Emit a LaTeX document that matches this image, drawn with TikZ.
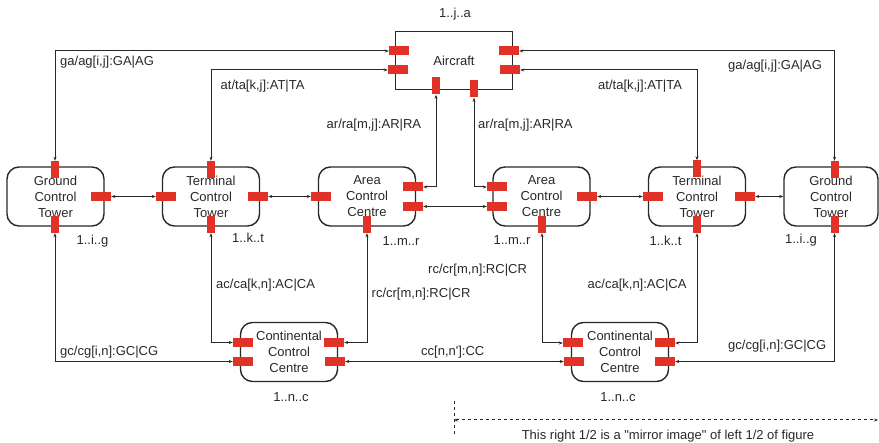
\documentclass[tikz,border=0pt]{standalone}
\usepackage{fontspec}
\setmainfont{Liberation Sans}[Ligatures=TeXOff]
\usepackage{tikz}
\usetikzlibrary{shapes.geometric, arrows, arrows.meta, positioning, calc}
\definecolor{portred}{RGB}{224,50,38}
\definecolor{inkgray}{RGB}{40,40,40}
\tikzstyle{unit} = [rectangle,
rounded corners=12pt,
minimum width=97pt,
minimum height=59pt, text centered,
align=center, inner sep=0pt,
draw=inkgray, line width=1.4pt]
\tikzstyle{plane} = [rectangle,
minimum width=117pt,
minimum height=58pt,
draw=inkgray, line width=1.4pt]
\tikzstyle{hport} = [rectangle, fill=portred, minimum width=20pt, minimum height=9pt, inner sep=0pt]
\tikzstyle{vport} = [rectangle, fill=portred, minimum width=8pt, minimum height=17pt, inner sep=0pt]
\tikzstyle{arrow} = [draw=inkgray, line width=1pt, <->, >={Stealth[length=4pt,width=3pt]}]
\tikzstyle{lbl} = [inner sep=0pt, text=inkgray]

\begin{document}
\begin{tikzpicture}[x=1pt, y=-1pt, every node/.style={font=\fontsize{13}{16}\selectfont, text=inkgray}]
                \useasboundingbox (0,0) rectangle (879,443);

                % boxes
                \node (ac) [plane] at (454,60.5) {Aircraft};
                \node (gL) [unit] at (55.5,196.5) {Ground\\Control\\Tower};
                \node (tL) [unit] at (211,196.5) {Terminal\\Control\\Tower};
                \node (aL) [unit] at (367,196.5) {Area\\Control\\Centre};
                \node (aR) [unit] at (541.5,196.5) {Area\\Control\\Centre};
                \node (tR) [unit] at (697,196.5) {Terminal\\Control\\Tower};
                \node (gR) [unit, minimum width=94pt] at (831,196.5) {Ground\\Control\\Tower};
                \node (cL) [unit] at (289,352) {Continental\\Control\\Centre};
                \node (cR) [unit] at (620,352) {Continental\\Control\\Centre};

                % ports
                \node (ac_w1) [hport] at (399,51) {};
                \node (ac_w2) [hport] at (398,70) {};
                \node (ac_s1) [vport] at (436,86) {};
                \node (ac_s2) [vport] at (474,89) {};
                \node (ac_e1) [hport] at (509,51) {};
                \node (ac_e2) [hport] at (510,70) {};
                \node (gL_n) [vport] at (55,169.5) {};
                \node (gL_e) [hport] at (101,196.5) {};
                \node (gL_s) [vport] at (55,224.5) {};
                \node (tL_n) [vport] at (211,169.5) {};
                \node (tL_w) [hport] at (166,196.5) {};
                \node (tL_e) [hport] at (258,196.5) {};
                \node (tL_s) [vport] at (211,224.5) {};
                \node (aL_w) [hport] at (321,196.5) {};
                \node (aL_e1) [hport] at (413,187) {};
                \node (aL_e2) [hport] at (413,206.5) {};
                \node (aL_s) [vport] at (367,224.5) {};
                \node (aR_w1) [hport] at (497,187) {};
                \node (aR_w2) [hport] at (497,206.5) {};
                \node (aR_e) [hport] at (587,196.5) {};
                \node (aR_s) [vport] at (542,224.5) {};
                \node (tR_n) [vport] at (697,169) {};
                \node (tR_w) [hport] at (653,196.5) {};
                \node (tR_e) [hport] at (745,196.5) {};
                \node (tR_s) [vport] at (697,224.5) {};
                \node (gR_n) [vport] at (834.5,169.5) {};
                \node (gR_s) [vport] at (834.5,224.5) {};
                \node (cL_w1) [hport] at (243,342.5) {};
                \node (cL_w2) [hport] at (243,361.5) {};
                \node (cL_e1) [hport] at (334,342.5) {};
                \node (cL_e2) [hport] at (335,361.5) {};
                \node (cR_w1) [hport] at (573,343) {};
                \node (cR_w2) [hport] at (574,361.5) {};
                \node (cR_e1) [hport] at (665,343) {};
                \node (cR_e2) [hport] at (665,361.5) {};

                % links to the aircraft
                \draw [arrow] (gL_n.north) |- (ac_w1.west);
                \draw [arrow] (tL_n.north) |- (ac_w2.west);
                \draw [arrow] (aL_e1.east) -| (ac_s1.south);
                \draw [arrow] (ac_s2.south) |- (aR_w1.west);
                \draw [arrow] (ac_e2.east) -| (tR_n.north);
                \draw [arrow] (ac_e1.east) -| (gR_n.north);

                % links along the row
                \draw [arrow] (gL_e.east) -- (tL_w.west);
                \draw [arrow] (tL_e.east) -- (aL_w.west);
                \draw [arrow] (aL_e2.east) -- (aR_w2.west);
                \draw [arrow] (aR_e.east) -- (tR_w.west);
                \draw [arrow] (tR_e.east) -- (gR.west);

                % links to the continental centres
                \draw [arrow] (gL_s.south) |- (cL_w2.west);
                \draw [arrow] (tL_s.south) |- (cL_w1.west);
                \draw [arrow] (aL_s.south) |- (cL_e1.east);
                \draw [arrow] (cL_e2.east) -- (cR_w2.west);
                \draw [arrow] (aR_s.south) |- (cR_w1.west);
                \draw [arrow] (tR_s.south) |- (cR_e1.east);
                \draw [arrow] (gR_s.south) |- (cR_e2.east);

                % link labels
                \node (l_gaL) [lbl, anchor=west] at (60,62) {ga/ag[i,j]:GA\textbar AG};
                \node (l_atL) [lbl, anchor=west] at (220.5,86) {at/ta[k,j]:AT\textbar TA};
                \node (l_arL) [lbl, anchor=west] at (326.5,125) {ar/ra[m,j]:AR\textbar RA};
                \node (l_arR) [lbl, anchor=west] at (478,125) {ar/ra[m,j]:AR\textbar RA};
                \node (l_atR) [lbl, anchor=west] at (598,86) {at/ta[k,j]:AT\textbar TA};
                \node (l_gaR) [lbl, anchor=west] at (728,66) {ga/ag[i,j]:GA\textbar AG};
                \node (l_acL) [lbl, anchor=west] at (216,285) {ac/ca[k,n]:AC\textbar CA};
                \node (l_rcL) [lbl, anchor=west] at (371.5,294.5) {rc/cr[m,n]:RC\textbar CR};
                \node (l_rcR) [lbl, anchor=west] at (428,270.5) {rc/cr[m,n]:RC\textbar CR};
                \node (l_acR) [lbl, anchor=west] at (587.5,285) {ac/ca[k,n]:AC\textbar CA};
                \node (l_gcL) [lbl, anchor=west] at (60,352.5) {gc/cg[i,n]:GC\textbar CG};
                \node (l_cc) [lbl, anchor=west] at (421,352.5) {cc[n,n']:CC};
                \node (l_gcR) [lbl, anchor=west] at (728,346) {gc/cg[i,n]:GC\textbar CG};

                % multiplicities
                \node (n_ac) [lbl] at (455,14) {1..j..a};
                \node (n_gL) [lbl] at (92.5,241) {1..i..g};
                \node (n_tL) [lbl] at (248,237.5) {1..k..t};
                \node (n_aL) [lbl] at (401,241) {1..m..r};
                \node (n_aR) [lbl] at (512,240.5) {1..m..r};
                \node (n_tR) [lbl] at (665.5,240.5) {1..k..t};
                \node (n_gR) [lbl] at (801,240.5) {1..i..g};
                \node (n_cL) [lbl] at (291,397) {1..n..c};
                \node (n_cR) [lbl] at (618,397) {1..n..c};

                % mirror note
                \coordinate (m_top) at (454,401);
                \coordinate (m_bot) at (454,436);
                \coordinate (m_l) at (454,420);
                \coordinate (m_r) at (878,420);
                \draw [draw=inkgray, line width=1pt, dashed] (m_top) -- (m_bot);
                \draw [arrow, dashed] (m_l) -- (m_r);
                \node (note) [lbl] at (668,436) {This right 1/2 is a "mirror image" of left 1/2 of figure};
            \end{tikzpicture}
\end{document}
